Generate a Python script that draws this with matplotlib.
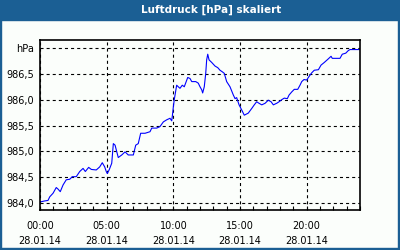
import matplotlib
matplotlib.use("Agg")
import matplotlib.pyplot as plt
from matplotlib.patches import Rectangle

# hours since 28.01.14 00:00 and pressure in hPa
hours = [0.00, 0.35, 0.60, 0.73, 0.98, 1.22, 1.35, 1.52, 1.73, 1.97,
         2.23, 2.42, 2.72, 2.98, 3.23, 3.40, 3.65, 3.85, 4.22, 4.48,
         4.67, 4.85, 4.97, 5.05, 5.20, 5.38, 5.50, 5.63, 5.87, 6.13,
         6.38, 6.62, 7.00, 7.18, 7.37, 7.55, 7.88, 8.25, 8.38, 8.75,
         9.00, 9.25, 9.50, 9.75, 9.88, 9.95, 10.00, 10.07, 10.25, 10.37,
         10.50, 10.67, 10.82, 11.08, 11.25, 11.38, 11.68, 11.87, 12.00, 12.13,
         12.20, 12.32, 12.43, 12.50, 12.58, 12.68, 12.88, 13.13, 13.33, 13.50,
         13.67, 13.82, 14.00, 14.25, 14.50, 14.63, 14.75, 14.93, 15.13, 15.32,
         15.62, 15.88, 16.07, 16.25, 16.43, 16.63, 16.88, 17.12, 17.33, 17.50,
         17.75, 17.93, 18.13, 18.32, 18.55, 18.68, 18.88, 19.07, 19.33, 19.50,
         19.63, 19.80, 20.00, 20.18, 20.38, 20.57, 20.88, 21.08, 21.32, 21.58,
         21.83, 21.92, 22.50, 22.67, 22.93, 23.12, 23.25, 24.00]
pressure = [984.02, 984.04, 984.05, 984.12, 984.19, 984.30, 984.27, 984.22, 984.35, 984.45,
            984.46, 984.51, 984.51, 984.61, 984.67, 984.61, 984.69, 984.65, 984.64, 984.70,
            984.78, 984.70, 984.61, 984.57, 984.65, 984.77, 985.15, 985.12, 984.88, 984.93,
            984.99, 984.93, 984.93, 985.12, 985.15, 985.35, 985.35, 985.38, 985.45, 985.45,
            985.48, 985.57, 985.61, 985.64, 985.59, 985.74, 985.86, 986.00, 986.28, 986.25,
            986.22, 986.28, 986.25, 986.43, 986.41, 986.35, 986.35, 986.32, 986.25, 986.19,
            986.13, 986.25, 986.51, 986.77, 986.88, 986.77, 986.72, 986.65, 986.62, 986.57,
            986.54, 986.51, 986.35, 986.25, 986.09, 986.02, 986.04, 985.90, 985.80, 985.70,
            985.74, 985.83, 985.90, 985.96, 985.93, 985.90, 985.93, 985.99, 985.96, 985.90,
            985.93, 985.96, 986.00, 986.03, 986.02, 986.09, 986.15, 986.20, 986.20, 986.28,
            986.35, 986.39, 986.38, 986.45, 986.52, 986.57, 986.58, 986.67, 986.72, 986.78,
            986.84, 986.80, 986.80, 986.88, 986.90, 986.95, 986.97, 986.97]

x_ticks = [0, 5, 10, 15, 20]
x_labels = ['00:00\n28.01.14', '05:00\n28.01.14', '10:00\n28.01.14',
            '15:00\n28.01.14', '20:00\n28.01.14']
y_ticks = [984.0, 984.5, 985.0, 985.5, 986.0, 986.5, 987.0]
y_labels = ['984,0', '984,5', '985,0', '985,5', '986,0', '986,5', 'hPa']

title = 'Luftdruck [hPa] skaliert'
bar_blue = '#1b5f94'
bg = '#fbfefb'

plt.rcParams['lines.scale_dashes'] = False
plt.rcParams['font.family'] = 'DejaVu Sans'

fig = plt.figure(figsize=(4, 2.5), dpi=100, facecolor=bg)

# title bar and blue frame
fig.patches.append(Rectangle((0, 1 - 20 / 250), 1, 20 / 250, transform=fig.transFigure,
                             color=bar_blue, zorder=0))
fig.patches.append(Rectangle((0, 0), 1 / 400, 1, transform=fig.transFigure, color=bar_blue))
fig.patches.append(Rectangle((1 - 2 / 400, 0), 2 / 400, 1, transform=fig.transFigure, color=bar_blue))
fig.patches.append(Rectangle((0, 0), 1, 2 / 250, transform=fig.transFigure, color=bar_blue))
fig.text(211 / 400, 1 - 10 / 250, title, color='white', fontsize=7.5, fontweight='bold',
         ha='center', va='center')

ax = fig.add_axes([0.1, 0.16, 0.8, 0.68])
ax.set_facecolor(bg)
ax.plot(hours, pressure, color='#0000ff', linewidth=0.8)

ax.set_xlim(0, 24)
ax.set_ylim(983.865, 987.155)
ax.set_xticks(x_ticks)
ax.set_xticklabels(x_labels, fontsize=7)
ax.set_xticks(range(0, 25), minor=True)
ax.set_yticks(y_ticks)
ax.set_yticklabels(y_labels, fontsize=7)
for t in ax.get_xticklabels():
    t.set_linespacing(1.55)

ax.tick_params(axis='x', which='both', direction='in', length=3, width=0.8, pad=8)
ax.tick_params(axis='y', which='both', length=0, pad=4)
ax.grid(True, which='major', color='black', linewidth=0.8, linestyle=(0, (2.2, 2.2)))
for s in ax.spines.values():
    s.set_linewidth(1.2)
    s.set_color('black')

plt.savefig('out.png', dpi=100, facecolor=bg)
